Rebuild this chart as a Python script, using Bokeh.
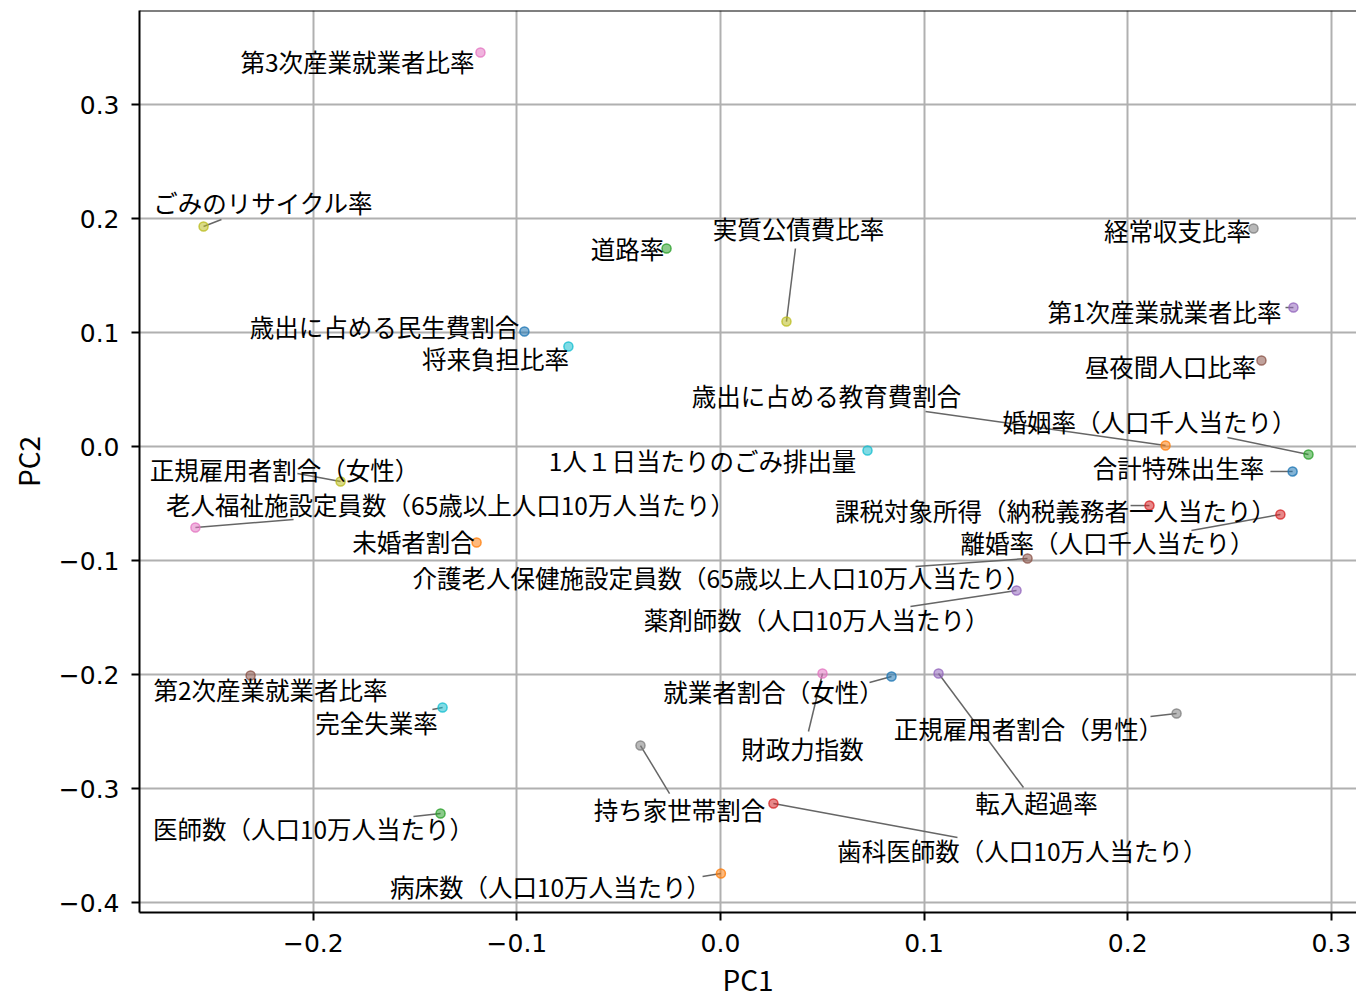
from bokeh.plotting import figure
from bokeh.models import ColumnDataSource, FixedTicker, CustomJSTickFormatter, Span, Range1d
from bokeh.core.properties import value
from bokeh.embed import file_html
from bokeh.resources import INLINE
from bokeh.palettes import Category10_10

# ---- data: PCA loadings (PC1, PC2) ----
variables = [
    "歳出に占める民生費割合", "歳出に占める教育費割合", "道路率", "課税対象所得（納税義務者一人当たり）",
    "第1次産業就業者比率", "第2次産業就業者比率", "第3次産業就業者比率", "経常収支比率",
    "実質公債費比率", "将来負担比率", "就業者割合（女性）", "未婚者割合",
    "婚姻率（人口千人当たり）", "離婚率（人口千人当たり）", "転入超過率", "昼夜間人口比率",
    "財政力指数", "正規雇用者割合（男性）", "正規雇用者割合（女性）", "完全失業率",
    "合計特殊出生率", "病床数（人口10万人当たり）", "医師数（人口10万人当たり）", "歯科医師数（人口10万人当たり）",
    "薬剤師数（人口10万人当たり）", "介護老人保健施設定員数（65歳以上人口10万人当たり）",
    "老人福祉施設定員数（65歳以上人口10万人当たり）", "持ち家世帯割合",
    "ごみのリサイクル率", "1人１日当たりのごみ排出量",
]
pc1 = [
    -0.0963, 0.2186, -0.0265, 0.2107,
    0.2814, -0.2308, -0.1179, 0.2618,
    0.0324, -0.0747, 0.0840, -0.1198,
    0.2888, 0.2750, 0.1071, 0.2657,
    0.0501, 0.2240, -0.1866, -0.1365,
    0.2810, 0.0002, -0.1375, 0.0260,
    0.1454, 0.1508,
    -0.2579, -0.0393,
    -0.2539, 0.0722,
]
pc2 = [
    0.1009, 0.0009, 0.1737, -0.0518,
    0.1219, -0.2009, 0.3456, 0.1912,
    0.1096, 0.0877, -0.2018, -0.0842,
    -0.0070, -0.0596, -0.1991, 0.0754,
    -0.1991, -0.2342, -0.0307, -0.2290,
    -0.0219, -0.3746, -0.3219, -0.3132,
    -0.1263, -0.0982,
    -0.0710, -0.2623,
    0.1930, -0.0035,
]
x_ticks = [-0.2, -0.1, 0.0, 0.1, 0.2, 0.3]
y_ticks = [-0.4, -0.3, -0.2, -0.1, 0.0, 0.1, 0.2, 0.3]

# ---- layout: label centres (data units) and leader-line starts (None = no leader) ----
label_x = [
    -0.1650, 0.0521, -0.0457, 0.1645,
    0.2181, -0.2210, -0.1783, 0.2245,
    0.0383, -0.1105, 0.0260, -0.1508,
    0.2107, 0.1901, 0.1552, 0.2210,
    0.0403, 0.1513, -0.2141, -0.1690,
    0.2250, -0.0835, -0.1999, 0.1483,
    0.0472, 0.0005,
    -0.1326, -0.0201,
    -0.2245, -0.0088,
]
label_y = [
    0.1053, 0.0447, 0.1737, -0.0561,
    0.1184, -0.2132, 0.3377, 0.1895,
    0.1912, 0.0772, -0.2149, -0.0833,
    0.0219, -0.0842, -0.3123, 0.0702,
    -0.2649, -0.2474, -0.0202, -0.2421,
    -0.0184, -0.3860, -0.3351, -0.3544,
    -0.1518, -0.1149,
    -0.0509, -0.3184,
    0.2140, -0.0123,
]
leader_start = [
    None, (0.1007, 0.0307), None, (0.2014, -0.0518),
    (0.2775, 0.1219), None, None, None,
    (0.0368, 0.1737), None, (0.0732, -0.2070), None,
    (0.2490, 0.0079), (0.2313, -0.0737), (0.1488, -0.2991), None,
    (0.0432, -0.2500), (0.2112, -0.2368), (-0.2078, -0.0237), (-0.1415, -0.2307),
    (0.2701, -0.0219), (-0.0088, -0.3772), (-0.1508, -0.3246), (0.1164, -0.3430),
    (0.0933, -0.1404), (0.0958, -0.1053),
    (-0.2097, -0.0640), (-0.0250, -0.3044),
    (-0.2451, 0.1991), None,
]

colors = [Category10_10[i % 10] for i in range(len(variables))]

FONT = "Noto Sans CJK JP"
TICK_FONT = "DejaVu Sans"

p = figure(
    frame_width=1217, frame_height=902,
    x_range=Range1d(-0.28536, 0.31238), y_range=Range1d(-0.40877, 0.38246),
    output_backend="svg", toolbar_location=None,
    min_border_left=139, min_border_right=0, min_border_top=10, min_border_bottom=80,
)
p.outline_line_color = None
p.background_fill_color = "white"
p.border_fill_color = "white"

# axes
for ax, ticks, lab in ((p.xaxis[0], x_ticks, "PC1"), (p.yaxis[0], y_ticks, "PC2")):
    ax.ticker = FixedTicker(ticks=ticks)
    ax.formatter = CustomJSTickFormatter(code="return tick.toFixed(1).replace('-', '\u2212');")
    ax.axis_label = lab
    ax.axis_label_text_font = FONT
    ax.axis_label_text_font_size = "28px"
    ax.axis_label_text_font_style = "normal"
    ax.axis_label_text_color = "black"
    ax.major_label_text_font = TICK_FONT
    ax.major_label_text_font_size = "25px"
    ax.major_label_text_color = "black"
    ax.axis_line_width = 2
    ax.axis_line_color = "black"
    ax.major_tick_line_width = 2
    ax.major_tick_line_color = "black"
    ax.major_tick_in = 0
    ax.major_tick_out = 8
    ax.minor_tick_line_color = None
p.xaxis.major_label_standoff = 13
p.xaxis.axis_label_standoff = 4
p.yaxis.major_label_standoff = 12
p.yaxis.axis_label_standoff = 8

p.grid.grid_line_color = "#b0b0b0"
p.grid.grid_line_width = 2
p.add_layout(Span(location=p.y_range.end, dimension="width", line_color="black", line_width=2))

# leader lines
seg = dict(x0=[], y0=[], x1=[], y1=[])
for (s, x, y) in zip(leader_start, pc1, pc2):
    if s is not None:
        seg["x0"].append(s[0]); seg["y0"].append(s[1])
        seg["x1"].append(x); seg["y1"].append(y)
p.segment("x0", "y0", "x1", "y1", source=ColumnDataSource(seg), line_color="#666666", line_width=1.5)

# points
src = ColumnDataSource(dict(x=pc1, y=pc2, c=colors, lx=label_x, ly=label_y, t=variables))
p.scatter("x", "y", source=src, size=9, fill_color="c", fill_alpha=0.55, line_color="c",
          line_alpha=0.8, line_width=1.5)

# labels
p.text("lx", "ly", text="t", source=src, text_font=value(FONT), text_font_size="24.5px",
       text_align="center", text_baseline="middle", text_color="black")

open("out.html", "w").write(file_html(p, INLINE))
